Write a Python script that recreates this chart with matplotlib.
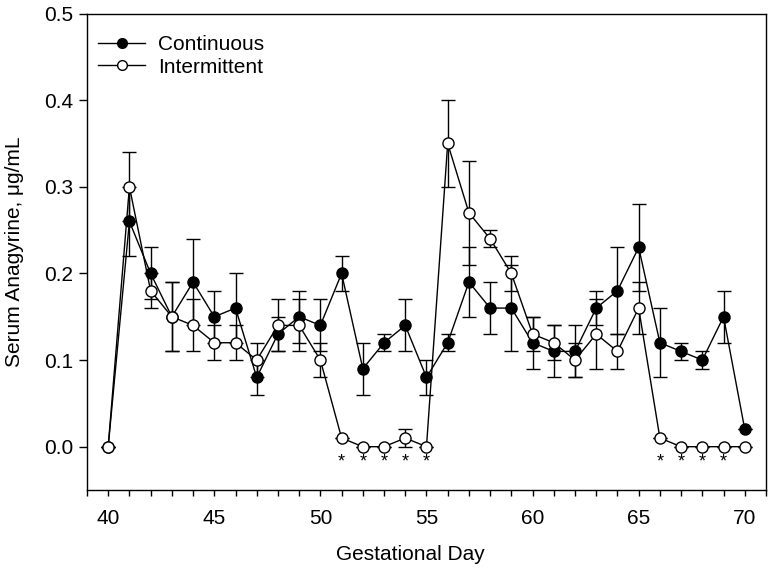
import matplotlib
matplotlib.use("Agg")
import matplotlib.pyplot as plt
from matplotlib.lines import Line2D
from matplotlib.ticker import MultipleLocator, FormatStrFormatter

plt.rcParams['font.family'] = ['Liberation Sans', 'DejaVu Sans']

days = list(range(40, 71))

cont_mean = [0.00, 0.26, 0.20, 0.15, 0.19, 0.15, 0.16, 0.08, 0.13, 0.15,
             0.14, 0.20, 0.09, 0.12, 0.14, 0.08, 0.12, 0.19, 0.16, 0.16,
             0.12, 0.11, 0.11, 0.16, 0.18, 0.23, 0.12, 0.11, 0.10, 0.15, 0.02]
cont_err = [0.00, 0.04, 0.03, 0.04, 0.05, 0.03, 0.04, 0.02, 0.02, 0.03,
            0.03, 0.02, 0.03, 0.01, 0.03, 0.02, 0.01, 0.04, 0.03, 0.05,
            0.03, 0.03, 0.03, 0.02, 0.05, 0.05, 0.04, 0.01, 0.01, 0.03, 0.00]

int_mean = [0.00, 0.30, 0.18, 0.15, 0.14, 0.12, 0.12, 0.10, 0.14, 0.14,
            0.10, 0.01, 0.00, 0.00, 0.01, 0.00, 0.35, 0.27, 0.24, 0.20,
            0.13, 0.12, 0.10, 0.13, 0.11, 0.16, 0.01, 0.00, 0.00, 0.00, 0.00]
int_err = [0.00, 0.04, 0.02, 0.04, 0.03, 0.02, 0.02, 0.02, 0.03, 0.03,
           0.02, 0.00, 0.00, 0.00, 0.01, 0.00, 0.05, 0.06, 0.01, 0.02,
           0.02, 0.02, 0.02, 0.04, 0.02, 0.03, 0.00, 0.00, 0.00, 0.00, 0.00]

star_days = [51, 52, 53, 54, 55, 66, 67, 68, 69]
star_level = -0.018

fig = plt.figure(figsize=(7.71, 5.75), dpi=100)
ax = fig.add_axes([0.1128, 0.1478, 0.8807, 0.8287])

ax.errorbar(days, cont_mean, yerr=cont_err, fmt='-o', color='black',
            mfc='black', mec='black', ms=8, lw=1.0, elinewidth=1.0,
            capsize=5, capthick=1.0, zorder=2)
ax.errorbar(days, int_mean, yerr=int_err, fmt='-o', color='black',
            mfc='white', mec='black', ms=8, lw=1.0, elinewidth=1.0,
            capsize=5, capthick=1.0, zorder=3)

for d in star_days:
    ax.text(d, star_level, '*', ha='center', va='center', fontsize=13)

ax.set_xlim(39, 71)
ax.set_ylim(-0.05, 0.5)
ax.xaxis.set_major_locator(MultipleLocator(5))
ax.xaxis.set_minor_locator(MultipleLocator(1))
ax.yaxis.set_major_locator(MultipleLocator(0.1))
ax.yaxis.set_major_formatter(FormatStrFormatter('%.1f'))
ax.tick_params(axis='x', which='both', direction='out', length=4, width=1,
               labelsize=15, pad=10)
ax.tick_params(axis='y', which='major', direction='out', length=6, width=1,
               labelsize=15, pad=4)
for s in ax.spines.values():
    s.set_linewidth(1.0)

handles = [
    Line2D([], [], color='black', lw=1.0, marker='o', mfc='black',
           mec='black', ms=7),
    Line2D([], [], color='black', lw=1.0, marker='o', mfc='white',
           mec='black', ms=7),
]
ax.legend(handles, ['Continuous', 'Intermittent'], loc='upper left',
          frameon=False, fontsize=15, handlelength=2.25,
          handletextpad=0.6, labelspacing=0.15, borderaxespad=0.15,
          bbox_to_anchor=(0.0, 0.978))

fig.text(0.532, 0.035, 'Gestational Day', ha='center', va='center', fontsize=15)
fig.text(0.019, 0.562, 'Serum Anagyrine, μg/mL', ha='center', va='center',
         rotation=90, fontsize=15)

fig.savefig('out.png', dpi=100)
